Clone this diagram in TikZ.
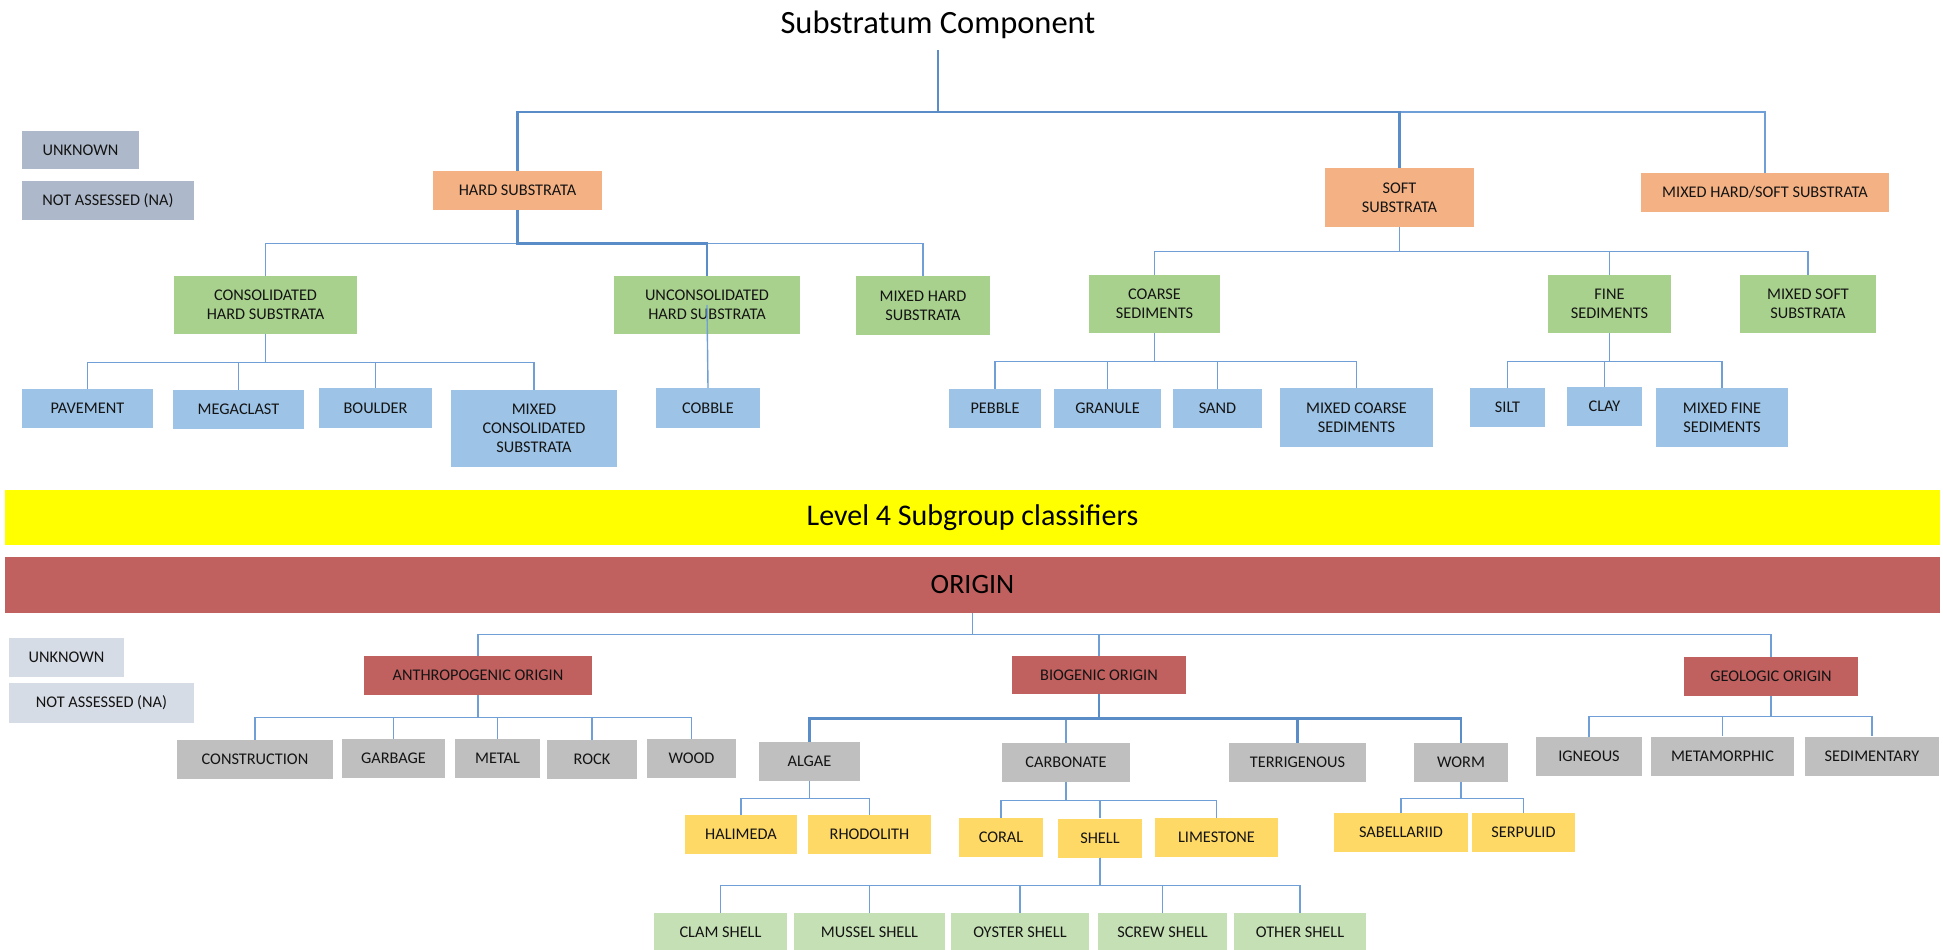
\documentclass[tikz,border=0pt]{standalone}
\usepackage{fontspec}
\setmainfont{Carlito}
\definecolor{corange}{HTML}{F4B183}
\definecolor{cgreen}{HTML}{A9D18E}
\definecolor{cblue}{HTML}{9DC3E6}
\definecolor{cgb}{HTML}{ADB9CA}
\definecolor{clgb}{HTML}{D6DCE5}
\definecolor{cred}{HTML}{C0605F}
\definecolor{cgray}{HTML}{BFBFBF}
\definecolor{cyel}{HTML}{FFD966}
\definecolor{clgreen}{HTML}{C5E0B4}
\definecolor{cband}{HTML}{FFFF00}
\definecolor{cline}{HTML}{6F9FD6}
\definecolor{cthick}{HTML}{5A8CC8}
\definecolor{ctext}{HTML}{141414}
\tikzset{
  box/.style={rectangle, inner sep=0pt, align=center, text=ctext,
    font=\fontsize{16.3}{19}\selectfont},
  bx/.style 2 args={box, minimum width=#1, minimum height=#2},
  conn/.style={draw=cline, line width=1.4pt},
  thick conn/.style={draw=cthick, line width=2.8pt},
}
\begin{document}
\begin{tikzpicture}[x=1pt,y=-1pt]
\useasboundingbox (0,0) rectangle (1943,950);
% title
\node[text=black, font=\fontsize{32.5}{38}\selectfont] (title) at (938,25) {Substratum Component};
\coordinate (root) at (938,50);
% legend top
\node[bx={117}{38}, fill=cgb] (unk1) at (80.5,150) {UNKNOWN};
\node[bx={172}{39}, fill=cgb] (na1) at (108,200.5) {NOT ASSESSED (NA)};
% level 1
\node[bx={169}{39}, fill=corange] (hard) at (517.5,190.5) {HARD SUBSTRATA};
\node[bx={149}{59}, fill=corange] (soft) at (1399.5,197.5) {SOFT\\SUBSTRATA};
\node[bx={248}{39}, fill=corange] (mhs) at (1765,192.5) {MIXED HARD/SOFT SUBSTRATA};
% level 2
\node[bx={183}{58}, fill=cgreen] (cons) at (265.5,305) {CONSOLIDATED\\HARD SUBSTRATA};
\node[bx={186}{58}, fill=cgreen] (uncons) at (707,305) {UNCONSOLIDATED\\HARD SUBSTRATA};
\node[bx={134}{59}, fill=cgreen] (mhard) at (923,305.5) {MIXED HARD\\SUBSTRATA};
\node[bx={131}{58}, fill=cgreen] (coarse) at (1154.5,304) {COARSE\\SEDIMENTS};
\node[bx={123}{58}, fill=cgreen] (fine) at (1609.5,304) {FINE\\SEDIMENTS};
\node[bx={136}{58}, fill=cgreen] (msoft) at (1808,304) {MIXED SOFT\\SUBSTRATA};
% level 3
\node[bx={131}{39}, fill=cblue] (pavement) at (87.5,408.5) {PAVEMENT};
\node[bx={131}{39}, fill=cblue] (megaclast) at (238.5,409.5) {MEGACLAST};
\node[bx={113}{40}, fill=cblue] (boulder) at (375.5,408) {BOULDER};
\node[bx={166}{77}, fill=cblue] (mcons) at (534,428.5) {MIXED\\CONSOLIDATED\\SUBSTRATA};
\node[bx={104}{40}, fill=cblue] (cobble) at (708,408) {COBBLE};
\node[bx={92}{39}, fill=cblue] (pebble) at (995,408.5) {PEBBLE};
\node[bx={107}{39}, fill=cblue] (granule) at (1107.5,408.5) {GRANULE};
\node[bx={89}{39}, fill=cblue] (sand) at (1217.5,408.5) {SAND};
\node[bx={153}{59}, fill=cblue] (mcoarse) at (1356.5,417.5) {MIXED COARSE\\SEDIMENTS};
\node[bx={75}{39}, fill=cblue] (silt) at (1507.5,407.5) {SILT};
\node[bx={75}{39}, fill=cblue] (clay) at (1604.5,406.5) {CLAY};
\node[bx={132}{59}, fill=cblue] (mfine) at (1722,417.5) {MIXED FINE\\SEDIMENTS};
% top connectors
\draw[conn] (root) -- ++(0,62) -| (mhs.north);
\draw[thick conn] (root) -- ++(0,62) -| (hard.north);
\draw[thick conn] (root) -- ++(0,62) -| (soft.north);
\foreach \c in {cons,mhard} \draw[conn] (hard.south) -- ++(0,33) -| (\c.north);
\draw[thick conn] (hard.south) -- ++(0,33) -| (uncons.north);
\draw[conn] (uncons.center) -- (cobble.north);
\foreach \c in {pavement,megaclast,boulder,mcons} \draw[conn] (cons.south) -- ++(0,28) -| (\c.north);
\foreach \c in {coarse,fine,msoft} \draw[conn] (soft.south) -- ++(0,24) -| (\c.north);
\foreach \c in {pebble,granule,sand,mcoarse} \draw[conn] (coarse.south) -- ++(0,28) -| (\c.north);
\foreach \c in {silt,clay,mfine} \draw[conn] (fine.south) -- ++(0,28) -| (\c.north);
% bands
\node[box, fill=cband, minimum width=1935, minimum height=55, text=black,
  font=\fontsize{30}{34}\selectfont] (level) at (972.5,517.5) {Level 4 Subgroup classifiers};
\node[box, fill=cred, minimum width=1935, minimum height=56, text=black,
  font=\fontsize{28}{32}\selectfont] (origin) at (972.5,585) {ORIGIN};
% legend bottom
\node[bx={115}{39}, fill=clgb] (unk2) at (66.5,657.5) {UNKNOWN};
\node[bx={185}{40}, fill=clgb] (na2) at (101.5,703) {NOT ASSESSED (NA)};
% origins
\node[bx={228}{39}, fill=cred] (anthro) at (478,675.5) {ANTHROPOGENIC ORIGIN};
\node[bx={174}{38}, fill=cred] (bio) at (1099,675) {BIOGENIC ORIGIN};
\node[bx={174}{39}, fill=cred] (geo) at (1771,676.5) {GEOLOGIC ORIGIN};
% gray
\node[bx={156}{39}, fill=cgray] (construction) at (255,759.5) {CONSTRUCTION};
\node[bx={103}{39}, fill=cgray] (garbage) at (393.5,758.5) {GARBAGE};
\node[bx={85}{39}, fill=cgray] (metal) at (497.5,758.5) {METAL};
\node[bx={90}{39}, fill=cgray] (rock) at (592,759.5) {ROCK};
\node[bx={89}{39}, fill=cgray] (wood) at (691.5,758.5) {WOOD};
\node[bx={101}{39}, fill=cgray] (algae) at (809.5,761.5) {ALGAE};
\node[bx={128}{39}, fill=cgray] (carbonate) at (1066,762.5) {CARBONATE};
\node[bx={137}{39}, fill=cgray] (terrigenous) at (1297.5,762.5) {TERRIGENOUS};
\node[bx={94}{39}, fill=cgray] (worm) at (1461,762.5) {WORM};
\node[bx={106}{39}, fill=cgray] (igneous) at (1589,756.5) {IGNEOUS};
\node[bx={143}{39}, fill=cgray] (metamorphic) at (1722.5,756) {METAMORPHIC};
\node[bx={134}{39}, fill=cgray] (sedimentary) at (1872,756) {SEDIMENTARY};
% yellow
\node[bx={112}{39}, fill=cyel] (halimeda) at (741,834.5) {HALIMEDA};
\node[bx={123}{39}, fill=cyel] (rhodolith) at (869.5,834.5) {RHODOLITH};
\node[bx={84}{39}, fill=cyel] (coral) at (1001,837.5) {CORAL};
\node[bx={84}{39}, fill=cyel] (shell) at (1100,838) {SHELL};
\node[bx={123}{39}, fill=cyel] (limestone) at (1216.5,837.5) {LIMESTONE};
\node[bx={134}{39}, fill=cyel] (sabellariid) at (1401,832.5) {SABELLARIID};
\node[bx={103}{39}, fill=cyel] (serpulid) at (1523.5,832.5) {SERPULID};
% shells
\node[bx={133}{39}, fill=clgreen] (clam) at (720.5,932.5) {CLAM SHELL};
\node[bx={151}{39}, fill=clgreen] (mussel) at (869.5,932.5) {MUSSEL SHELL};
\node[bx={138}{39}, fill=clgreen] (oyster) at (1020,932.5) {OYSTER SHELL};
\node[bx={129}{39}, fill=clgreen] (screw) at (1162.5,932.5) {SCREW SHELL};
\node[bx={132}{39}, fill=clgreen] (other) at (1300,932.5) {OTHER SHELL};
% bottom connectors
\foreach \c in {anthro,bio,geo} \draw[conn] (origin.south) -- ++(0,21) -| (\c.north);
\foreach \c in {construction,garbage,metal,rock,wood} \draw[conn] (anthro.south) -- ++(0,22) -| (\c.north);
\draw[conn] (bio.south) -- ++(0,24) -| (carbonate.north);
\foreach \c in {algae,terrigenous,worm} \draw[thick conn] (bio.south) -- ++(0,24) -| (\c.north);
\foreach \c in {igneous,metamorphic,sedimentary} \draw[conn] (geo.south) -- ++(0,20) -| (\c.north);
\foreach \c in {halimeda,rhodolith} \draw[conn] (algae.south) -- ++(0,17) -| (\c.north);
\foreach \c in {coral,shell,limestone} \draw[conn] (carbonate.south) -- ++(0,18) -| (\c.north);
\foreach \c in {sabellariid,serpulid} \draw[conn] (worm.south) -- ++(0,16) -| (\c.north);
\foreach \c in {clam,mussel,oyster,screw,other} \draw[conn] (shell.south) -- ++(0,28) -| (\c.north);
\end{tikzpicture}
\end{document}
